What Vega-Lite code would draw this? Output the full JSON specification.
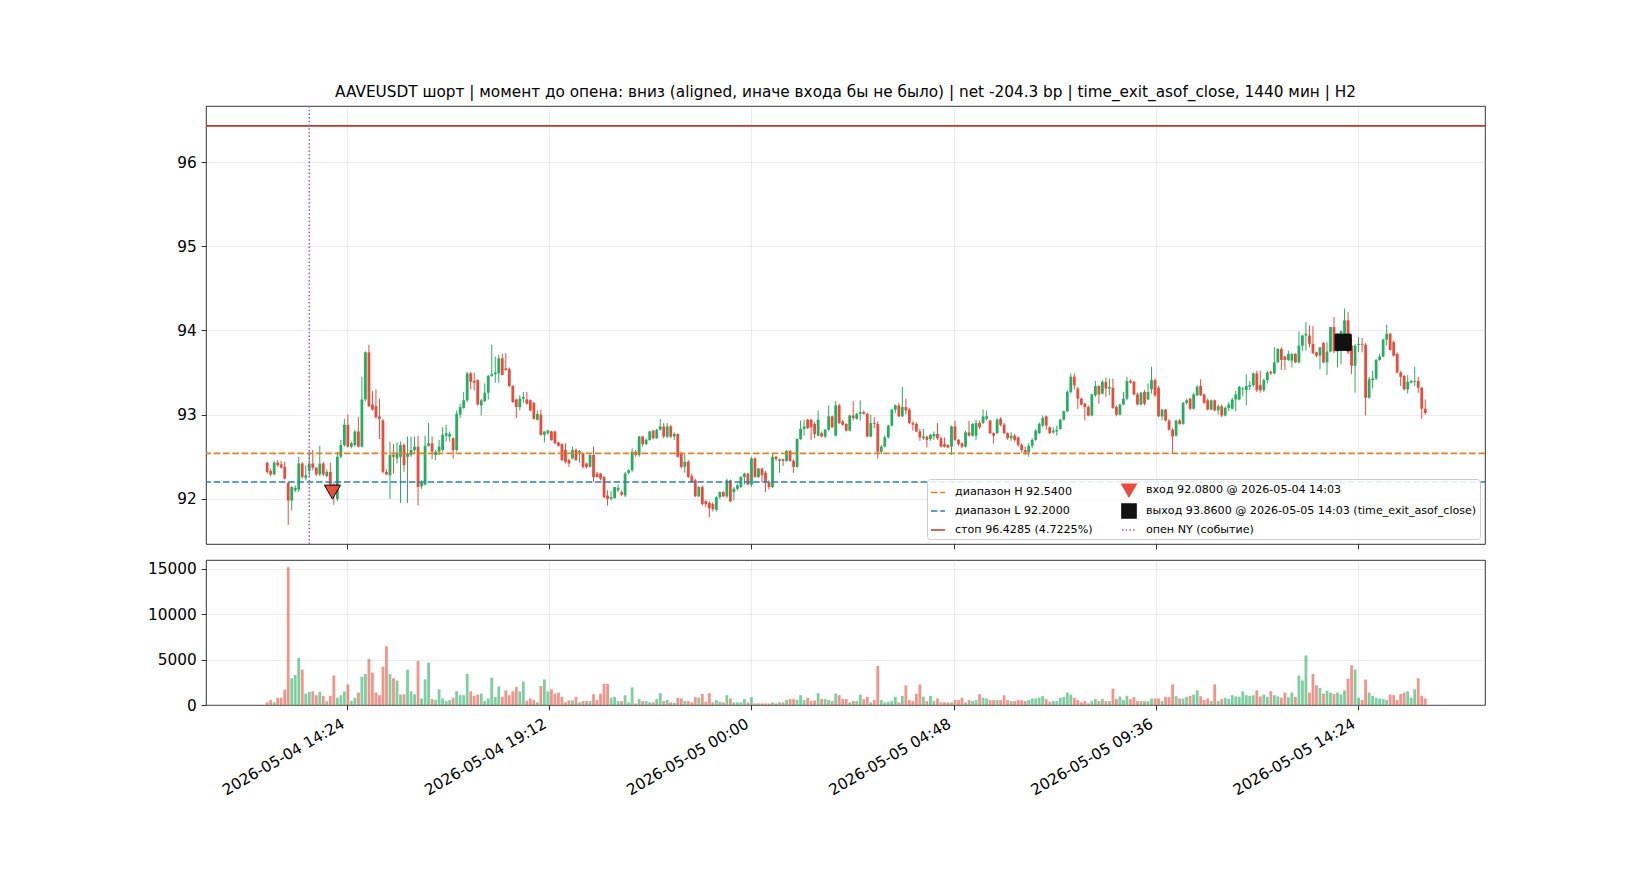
{
  "$schema": "https://vega.github.io/schema/vega-lite/v6.json",
  "background": "white",
  "padding": {"left": 145, "top": 84, "right": 20, "bottom": 10},
  "config": {
    "font": "DejaVu Sans",
    "view": {"stroke": "black", "strokeWidth": 0.8},
    "axis": {"domain": false, "tickColor": "black", "tickSize": 4.9, "tickWidth": 0.8, "labelFont": "DejaVu Sans", "labelFontSize": 15.3, "labelColor": "black", "labelPadding": 4.9, "gridColor": "#b0b0b0", "gridOpacity": 0.3, "gridWidth": 0.8}
  },
  "datasets": {
    "k": [
      {"t":"2026-05-04 12:30","o":92.43,"h":92.44,"l":92.30,"c":92.32,"v":300},
      {"t":"2026-05-04 12:35","o":92.33,"h":92.36,"l":92.27,"c":92.29,"v":540},
      {"t":"2026-05-04 12:40","o":92.29,"h":92.45,"l":92.28,"c":92.43,"v":300},
      {"t":"2026-05-04 12:45","o":92.43,"h":92.46,"l":92.38,"c":92.40,"v":800},
      {"t":"2026-05-04 12:50","o":92.41,"h":92.45,"l":92.36,"c":92.37,"v":800},
      {"t":"2026-05-04 12:55","o":92.38,"h":92.44,"l":92.23,"c":92.24,"v":1700},
      {"t":"2026-05-04 13:00","o":92.19,"h":92.20,"l":91.69,"c":91.98,"v":15200},
      {"t":"2026-05-04 13:05","o":91.98,"h":92.15,"l":91.86,"c":92.14,"v":2950},
      {"t":"2026-05-04 13:10","o":92.10,"h":92.16,"l":92.08,"c":92.13,"v":3300},
      {"t":"2026-05-04 13:15","o":92.11,"h":92.50,"l":92.08,"c":92.42,"v":5180},
      {"t":"2026-05-04 13:20","o":92.42,"h":92.44,"l":92.24,"c":92.26,"v":3900},
      {"t":"2026-05-04 13:25","o":92.25,"h":92.40,"l":92.22,"c":92.28,"v":1260},
      {"t":"2026-05-04 13:30","o":92.33,"h":92.56,"l":92.26,"c":92.42,"v":1440},
      {"t":"2026-05-04 13:35","o":92.42,"h":92.58,"l":92.34,"c":92.37,"v":1500},
      {"t":"2026-05-04 13:40","o":92.37,"h":92.38,"l":92.27,"c":92.29,"v":1080},
      {"t":"2026-05-04 13:45","o":92.29,"h":92.63,"l":92.27,"c":92.42,"v":1440},
      {"t":"2026-05-04 13:50","o":92.42,"h":92.44,"l":92.27,"c":92.29,"v":1000},
      {"t":"2026-05-04 13:55","o":92.27,"h":92.35,"l":92.26,"c":92.32,"v":430},
      {"t":"2026-05-04 14:00","o":92.32,"h":92.43,"l":92.15,"c":92.17,"v":1000},
      {"t":"2026-05-04 14:05","o":92.17,"h":92.20,"l":91.93,"c":92.08,"v":3240},
      {"t":"2026-05-04 14:10","o":92.00,"h":92.56,"l":91.97,"c":92.50,"v":800},
      {"t":"2026-05-04 14:15","o":92.50,"h":92.70,"l":92.48,"c":92.64,"v":1080},
      {"t":"2026-05-04 14:20","o":92.64,"h":92.95,"l":92.62,"c":92.88,"v":1500},
      {"t":"2026-05-04 14:25","o":92.88,"h":93.00,"l":92.61,"c":92.62,"v":2270},
      {"t":"2026-05-04 14:30","o":92.62,"h":92.68,"l":92.60,"c":92.66,"v":430},
      {"t":"2026-05-04 14:35","o":92.64,"h":92.82,"l":92.62,"c":92.80,"v":800},
      {"t":"2026-05-04 14:40","o":92.80,"h":92.97,"l":92.61,"c":92.62,"v":1370},
      {"t":"2026-05-04 14:45","o":92.62,"h":93.45,"l":92.61,"c":93.18,"v":3130},
      {"t":"2026-05-04 14:50","o":93.18,"h":93.75,"l":93.16,"c":93.74,"v":3420},
      {"t":"2026-05-04 14:55","o":93.74,"h":93.83,"l":93.09,"c":93.10,"v":5080},
      {"t":"2026-05-04 15:00","o":93.12,"h":93.28,"l":93.05,"c":93.06,"v":3560},
      {"t":"2026-05-04 15:05","o":93.10,"h":93.30,"l":92.95,"c":92.97,"v":1370},
      {"t":"2026-05-04 15:10","o":92.98,"h":93.19,"l":92.71,"c":92.95,"v":1080},
      {"t":"2026-05-04 15:15","o":92.93,"h":92.95,"l":92.30,"c":92.32,"v":4210},
      {"t":"2026-05-04 15:20","o":92.32,"h":92.35,"l":92.28,"c":92.29,"v":6480},
      {"t":"2026-05-04 15:25","o":92.28,"h":92.68,"l":92.00,"c":92.52,"v":3420},
      {"t":"2026-05-04 15:30","o":92.52,"h":92.65,"l":92.30,"c":92.50,"v":2950},
      {"t":"2026-05-04 15:35","o":92.48,"h":92.67,"l":92.42,"c":92.55,"v":2700},
      {"t":"2026-05-04 15:40","o":92.50,"h":92.68,"l":91.95,"c":92.64,"v":1150},
      {"t":"2026-05-04 15:45","o":92.64,"h":92.66,"l":92.32,"c":92.40,"v":1190},
      {"t":"2026-05-04 15:50","o":92.50,"h":92.74,"l":91.95,"c":92.54,"v":3890},
      {"t":"2026-05-04 15:55","o":92.52,"h":92.74,"l":92.50,"c":92.58,"v":1510},
      {"t":"2026-05-04 16:00","o":92.58,"h":92.74,"l":92.54,"c":92.62,"v":1190},
      {"t":"2026-05-04 16:05","o":92.62,"h":92.75,"l":91.92,"c":92.14,"v":4860},
      {"t":"2026-05-04 16:10","o":92.15,"h":92.22,"l":92.12,"c":92.19,"v":720},
      {"t":"2026-05-04 16:15","o":92.17,"h":92.75,"l":92.16,"c":92.63,"v":2840},
      {"t":"2026-05-04 16:20","o":92.63,"h":92.90,"l":92.62,"c":92.66,"v":4680},
      {"t":"2026-05-04 16:25","o":92.66,"h":92.74,"l":92.47,"c":92.56,"v":650},
      {"t":"2026-05-04 16:30","o":92.52,"h":92.58,"l":92.46,"c":92.56,"v":540},
      {"t":"2026-05-04 16:35","o":92.56,"h":92.70,"l":92.52,"c":92.62,"v":1730},
      {"t":"2026-05-04 16:40","o":92.58,"h":92.85,"l":92.56,"c":92.76,"v":720},
      {"t":"2026-05-04 16:45","o":92.75,"h":92.88,"l":92.68,"c":92.78,"v":430},
      {"t":"2026-05-04 16:50","o":92.74,"h":92.80,"l":92.68,"c":92.77,"v":540},
      {"t":"2026-05-04 16:55","o":92.72,"h":92.73,"l":92.48,"c":92.58,"v":800},
      {"t":"2026-05-04 17:00","o":92.58,"h":93.05,"l":92.56,"c":93.01,"v":1510},
      {"t":"2026-05-04 17:05","o":93.00,"h":93.13,"l":92.96,"c":93.09,"v":1080},
      {"t":"2026-05-04 17:10","o":93.08,"h":93.27,"l":93.07,"c":93.17,"v":1080},
      {"t":"2026-05-04 17:15","o":93.17,"h":93.51,"l":93.15,"c":93.49,"v":3420},
      {"t":"2026-05-04 17:20","o":93.49,"h":93.51,"l":93.30,"c":93.39,"v":1510},
      {"t":"2026-05-04 17:25","o":93.40,"h":93.50,"l":93.29,"c":93.38,"v":1010},
      {"t":"2026-05-04 17:30","o":93.41,"h":93.42,"l":93.11,"c":93.12,"v":1150},
      {"t":"2026-05-04 17:35","o":93.11,"h":93.19,"l":92.99,"c":93.17,"v":1260},
      {"t":"2026-05-04 17:40","o":93.16,"h":93.37,"l":93.15,"c":93.26,"v":430},
      {"t":"2026-05-04 17:45","o":93.26,"h":93.47,"l":93.18,"c":93.46,"v":720},
      {"t":"2026-05-04 17:50","o":93.46,"h":93.83,"l":93.45,"c":93.48,"v":3020},
      {"t":"2026-05-04 17:55","o":93.48,"h":93.69,"l":93.38,"c":93.50,"v":900},
      {"t":"2026-05-04 18:00","o":93.49,"h":93.71,"l":93.38,"c":93.67,"v":2050},
      {"t":"2026-05-04 18:05","o":93.67,"h":93.72,"l":93.47,"c":93.47,"v":900},
      {"t":"2026-05-04 18:10","o":93.55,"h":93.73,"l":93.52,"c":93.53,"v":1620},
      {"t":"2026-05-04 18:15","o":93.54,"h":93.56,"l":93.33,"c":93.34,"v":1080},
      {"t":"2026-05-04 18:20","o":93.34,"h":93.35,"l":93.14,"c":93.15,"v":1510},
      {"t":"2026-05-04 18:25","o":93.18,"h":93.19,"l":92.96,"c":93.09,"v":1980},
      {"t":"2026-05-04 18:30","o":93.09,"h":93.23,"l":93.05,"c":93.19,"v":1510},
      {"t":"2026-05-04 18:35","o":93.19,"h":93.27,"l":93.14,"c":93.21,"v":2590},
      {"t":"2026-05-04 18:40","o":93.18,"h":93.27,"l":93.12,"c":93.13,"v":470},
      {"t":"2026-05-04 18:45","o":93.17,"h":93.18,"l":93.04,"c":93.05,"v":720},
      {"t":"2026-05-04 18:50","o":93.14,"h":93.15,"l":92.94,"c":92.95,"v":540},
      {"t":"2026-05-04 18:55","o":92.94,"h":93.05,"l":92.93,"c":93.01,"v":290},
      {"t":"2026-05-04 19:00","o":93.00,"h":93.06,"l":92.75,"c":92.76,"v":2090},
      {"t":"2026-05-04 19:05","o":92.76,"h":92.80,"l":92.67,"c":92.80,"v":2810},
      {"t":"2026-05-04 19:10","o":92.78,"h":92.82,"l":92.76,"c":92.81,"v":1510},
      {"t":"2026-05-04 19:15","o":92.80,"h":92.81,"l":92.69,"c":92.70,"v":1730},
      {"t":"2026-05-04 19:20","o":92.80,"h":92.81,"l":92.65,"c":92.66,"v":1260},
      {"t":"2026-05-04 19:25","o":92.67,"h":92.68,"l":92.62,"c":92.63,"v":1370},
      {"t":"2026-05-04 19:30","o":92.65,"h":92.66,"l":92.45,"c":92.46,"v":900},
      {"t":"2026-05-04 19:35","o":92.58,"h":92.66,"l":92.42,"c":92.44,"v":290},
      {"t":"2026-05-04 19:40","o":92.46,"h":92.48,"l":92.38,"c":92.42,"v":500},
      {"t":"2026-05-04 19:45","o":92.48,"h":92.62,"l":92.47,"c":92.58,"v":500},
      {"t":"2026-05-04 19:50","o":92.58,"h":92.60,"l":92.45,"c":92.46,"v":900},
      {"t":"2026-05-04 19:55","o":92.55,"h":92.58,"l":92.43,"c":92.57,"v":290},
      {"t":"2026-05-04 20:00","o":92.54,"h":92.55,"l":92.36,"c":92.38,"v":430},
      {"t":"2026-05-04 20:05","o":92.42,"h":92.43,"l":92.36,"c":92.38,"v":430},
      {"t":"2026-05-04 20:10","o":92.38,"h":92.53,"l":92.37,"c":92.52,"v":430},
      {"t":"2026-05-04 20:15","o":92.52,"h":92.62,"l":92.20,"c":92.26,"v":1190},
      {"t":"2026-05-04 20:20","o":92.30,"h":92.32,"l":92.25,"c":92.26,"v":540},
      {"t":"2026-05-04 20:25","o":92.30,"h":92.31,"l":92.22,"c":92.24,"v":1260},
      {"t":"2026-05-04 20:30","o":92.26,"h":92.27,"l":92.01,"c":92.02,"v":2340},
      {"t":"2026-05-04 20:35","o":92.04,"h":92.10,"l":91.92,"c":92.00,"v":2340},
      {"t":"2026-05-04 20:40","o":92.00,"h":92.09,"l":91.98,"c":92.02,"v":800},
      {"t":"2026-05-04 20:45","o":92.01,"h":92.14,"l":92.00,"c":92.14,"v":900},
      {"t":"2026-05-04 20:50","o":92.10,"h":92.17,"l":92.08,"c":92.13,"v":430},
      {"t":"2026-05-04 20:55","o":92.08,"h":92.10,"l":92.03,"c":92.05,"v":430},
      {"t":"2026-05-04 21:00","o":92.04,"h":92.32,"l":92.02,"c":92.30,"v":1080},
      {"t":"2026-05-04 21:05","o":92.31,"h":92.35,"l":92.29,"c":92.34,"v":290},
      {"t":"2026-05-04 21:10","o":92.34,"h":92.60,"l":92.32,"c":92.56,"v":1940},
      {"t":"2026-05-04 21:15","o":92.56,"h":92.58,"l":92.50,"c":92.52,"v":180},
      {"t":"2026-05-04 21:20","o":92.52,"h":92.75,"l":92.50,"c":92.74,"v":650},
      {"t":"2026-05-04 21:25","o":92.74,"h":92.75,"l":92.62,"c":92.65,"v":430},
      {"t":"2026-05-04 21:30","o":92.65,"h":92.72,"l":92.64,"c":92.70,"v":430},
      {"t":"2026-05-04 21:35","o":92.70,"h":92.81,"l":92.69,"c":92.80,"v":290},
      {"t":"2026-05-04 21:40","o":92.81,"h":92.82,"l":92.71,"c":92.72,"v":290},
      {"t":"2026-05-04 21:45","o":92.72,"h":92.83,"l":92.71,"c":92.82,"v":650},
      {"t":"2026-05-04 21:50","o":92.82,"h":92.95,"l":92.81,"c":92.86,"v":1300},
      {"t":"2026-05-04 21:55","o":92.86,"h":92.90,"l":92.72,"c":92.74,"v":430},
      {"t":"2026-05-04 22:00","o":92.74,"h":92.90,"l":92.72,"c":92.86,"v":540},
      {"t":"2026-05-04 22:05","o":92.86,"h":92.88,"l":92.72,"c":92.74,"v":290},
      {"t":"2026-05-04 22:10","o":92.74,"h":92.79,"l":92.70,"c":92.77,"v":220},
      {"t":"2026-05-04 22:15","o":92.77,"h":92.78,"l":92.49,"c":92.50,"v":800},
      {"t":"2026-05-04 22:20","o":92.54,"h":92.56,"l":92.36,"c":92.38,"v":720},
      {"t":"2026-05-04 22:25","o":92.38,"h":92.53,"l":92.31,"c":92.44,"v":430},
      {"t":"2026-05-04 22:30","o":92.44,"h":92.46,"l":92.25,"c":92.26,"v":430},
      {"t":"2026-05-04 22:35","o":92.27,"h":92.30,"l":92.19,"c":92.20,"v":290},
      {"t":"2026-05-04 22:40","o":92.22,"h":92.24,"l":92.02,"c":92.03,"v":860},
      {"t":"2026-05-04 22:45","o":92.03,"h":92.15,"l":92.02,"c":92.14,"v":800},
      {"t":"2026-05-04 22:50","o":92.14,"h":92.16,"l":91.92,"c":91.94,"v":1220},
      {"t":"2026-05-04 22:55","o":91.97,"h":91.99,"l":91.90,"c":91.94,"v":360},
      {"t":"2026-05-04 23:00","o":91.95,"h":91.97,"l":91.78,"c":91.89,"v":1300},
      {"t":"2026-05-04 23:05","o":91.94,"h":91.96,"l":91.85,"c":91.88,"v":290},
      {"t":"2026-05-04 23:10","o":91.87,"h":92.03,"l":91.85,"c":92.02,"v":540},
      {"t":"2026-05-04 23:15","o":92.02,"h":92.09,"l":92.00,"c":92.08,"v":360},
      {"t":"2026-05-04 23:20","o":92.08,"h":92.09,"l":92.02,"c":92.03,"v":290},
      {"t":"2026-05-04 23:25","o":92.03,"h":92.24,"l":92.01,"c":92.22,"v":1080},
      {"t":"2026-05-04 23:30","o":92.22,"h":92.23,"l":91.96,"c":91.97,"v":720},
      {"t":"2026-05-04 23:35","o":92.08,"h":92.14,"l":91.98,"c":92.12,"v":290},
      {"t":"2026-05-04 23:40","o":92.12,"h":92.18,"l":92.10,"c":92.16,"v":290},
      {"t":"2026-05-04 23:45","o":92.14,"h":92.27,"l":92.13,"c":92.26,"v":290},
      {"t":"2026-05-04 23:50","o":92.26,"h":92.31,"l":92.17,"c":92.30,"v":650},
      {"t":"2026-05-04 23:55","o":92.30,"h":92.31,"l":92.16,"c":92.17,"v":290},
      {"t":"2026-05-05 00:00","o":92.17,"h":92.50,"l":92.14,"c":92.48,"v":860},
      {"t":"2026-05-05 00:05","o":92.48,"h":92.49,"l":92.25,"c":92.26,"v":180},
      {"t":"2026-05-05 00:10","o":92.26,"h":92.37,"l":92.25,"c":92.36,"v":180},
      {"t":"2026-05-05 00:15","o":92.36,"h":92.37,"l":92.20,"c":92.28,"v":180},
      {"t":"2026-05-05 00:20","o":92.31,"h":92.33,"l":92.08,"c":92.20,"v":180},
      {"t":"2026-05-05 00:25","o":92.20,"h":92.22,"l":92.11,"c":92.14,"v":180},
      {"t":"2026-05-05 00:30","o":92.14,"h":92.54,"l":92.13,"c":92.50,"v":290},
      {"t":"2026-05-05 00:35","o":92.50,"h":92.51,"l":92.45,"c":92.47,"v":180},
      {"t":"2026-05-05 00:40","o":92.45,"h":92.48,"l":92.31,"c":92.47,"v":290},
      {"t":"2026-05-05 00:45","o":92.47,"h":92.48,"l":92.39,"c":92.45,"v":290},
      {"t":"2026-05-05 00:50","o":92.45,"h":92.58,"l":92.44,"c":92.57,"v":540},
      {"t":"2026-05-05 00:55","o":92.57,"h":92.58,"l":92.44,"c":92.45,"v":650},
      {"t":"2026-05-05 01:00","o":92.45,"h":92.47,"l":92.31,"c":92.38,"v":650},
      {"t":"2026-05-05 01:05","o":92.38,"h":92.72,"l":92.37,"c":92.71,"v":580},
      {"t":"2026-05-05 01:10","o":92.71,"h":92.93,"l":92.70,"c":92.83,"v":1080},
      {"t":"2026-05-05 01:15","o":92.83,"h":92.94,"l":92.75,"c":92.86,"v":540},
      {"t":"2026-05-05 01:20","o":92.94,"h":92.95,"l":92.83,"c":92.84,"v":800},
      {"t":"2026-05-05 01:25","o":92.94,"h":92.95,"l":92.70,"c":92.85,"v":430},
      {"t":"2026-05-05 01:30","o":92.89,"h":92.91,"l":92.72,"c":92.77,"v":500},
      {"t":"2026-05-05 01:35","o":92.75,"h":93.05,"l":92.74,"c":92.94,"v":1300},
      {"t":"2026-05-05 01:40","o":92.78,"h":92.80,"l":92.73,"c":92.74,"v":650},
      {"t":"2026-05-05 01:45","o":92.74,"h":92.83,"l":92.72,"c":92.82,"v":650},
      {"t":"2026-05-05 01:50","o":92.82,"h":93.11,"l":92.81,"c":92.98,"v":540},
      {"t":"2026-05-05 01:55","o":92.98,"h":92.99,"l":92.84,"c":92.85,"v":430},
      {"t":"2026-05-05 02:00","o":92.75,"h":93.16,"l":92.74,"c":93.11,"v":1260},
      {"t":"2026-05-05 02:05","o":93.11,"h":93.13,"l":92.89,"c":92.90,"v":1080},
      {"t":"2026-05-05 02:10","o":92.92,"h":92.94,"l":92.87,"c":92.88,"v":650},
      {"t":"2026-05-05 02:15","o":92.89,"h":92.90,"l":92.80,"c":92.81,"v":650},
      {"t":"2026-05-05 02:20","o":92.81,"h":93.00,"l":92.80,"c":92.99,"v":290},
      {"t":"2026-05-05 02:25","o":92.99,"h":93.16,"l":92.93,"c":92.96,"v":430},
      {"t":"2026-05-05 02:30","o":92.95,"h":93.02,"l":92.94,"c":93.01,"v":430},
      {"t":"2026-05-05 02:35","o":93.01,"h":93.17,"l":92.93,"c":93.03,"v":1150},
      {"t":"2026-05-05 02:40","o":93.03,"h":93.05,"l":93.00,"c":93.01,"v":650},
      {"t":"2026-05-05 02:45","o":93.01,"h":93.02,"l":92.73,"c":92.74,"v":900},
      {"t":"2026-05-05 02:50","o":92.74,"h":93.00,"l":92.73,"c":92.90,"v":290},
      {"t":"2026-05-05 02:55","o":92.90,"h":92.97,"l":92.84,"c":92.89,"v":540},
      {"t":"2026-05-05 03:00","o":92.89,"h":92.92,"l":92.48,"c":92.56,"v":4320},
      {"t":"2026-05-05 03:05","o":92.56,"h":92.64,"l":92.53,"c":92.62,"v":540},
      {"t":"2026-05-05 03:10","o":92.62,"h":92.75,"l":92.61,"c":92.73,"v":290},
      {"t":"2026-05-05 03:15","o":92.73,"h":92.88,"l":92.72,"c":92.87,"v":360},
      {"t":"2026-05-05 03:20","o":92.87,"h":93.07,"l":92.86,"c":93.06,"v":430},
      {"t":"2026-05-05 03:25","o":93.06,"h":93.12,"l":93.02,"c":93.11,"v":900},
      {"t":"2026-05-05 03:30","o":93.11,"h":93.14,"l":92.97,"c":92.98,"v":290},
      {"t":"2026-05-05 03:35","o":92.98,"h":93.33,"l":92.97,"c":93.09,"v":1010},
      {"t":"2026-05-05 03:40","o":93.09,"h":93.19,"l":93.00,"c":93.05,"v":2160},
      {"t":"2026-05-05 03:45","o":93.06,"h":93.08,"l":92.89,"c":92.90,"v":540},
      {"t":"2026-05-05 03:50","o":92.90,"h":92.92,"l":92.81,"c":92.88,"v":430},
      {"t":"2026-05-05 03:55","o":92.89,"h":92.91,"l":92.79,"c":92.80,"v":1220},
      {"t":"2026-05-05 04:00","o":92.80,"h":92.83,"l":92.69,"c":92.73,"v":2270},
      {"t":"2026-05-05 04:05","o":92.72,"h":92.83,"l":92.70,"c":92.74,"v":900},
      {"t":"2026-05-05 04:10","o":92.74,"h":92.75,"l":92.61,"c":92.70,"v":430},
      {"t":"2026-05-05 04:15","o":92.71,"h":92.77,"l":92.69,"c":92.76,"v":1010},
      {"t":"2026-05-05 04:20","o":92.74,"h":92.80,"l":92.70,"c":92.77,"v":430},
      {"t":"2026-05-05 04:25","o":92.77,"h":92.90,"l":92.70,"c":92.72,"v":720},
      {"t":"2026-05-05 04:30","o":92.72,"h":92.74,"l":92.61,"c":92.62,"v":290},
      {"t":"2026-05-05 04:35","o":92.65,"h":92.73,"l":92.61,"c":92.62,"v":290},
      {"t":"2026-05-05 04:40","o":92.64,"h":92.65,"l":92.60,"c":92.61,"v":290},
      {"t":"2026-05-05 04:45","o":92.62,"h":92.87,"l":92.52,"c":92.86,"v":290},
      {"t":"2026-05-05 04:50","o":92.86,"h":92.93,"l":92.69,"c":92.70,"v":540},
      {"t":"2026-05-05 04:55","o":92.70,"h":92.71,"l":92.63,"c":92.65,"v":540},
      {"t":"2026-05-05 05:00","o":92.66,"h":92.67,"l":92.60,"c":92.62,"v":800},
      {"t":"2026-05-05 05:05","o":92.62,"h":92.81,"l":92.61,"c":92.79,"v":290},
      {"t":"2026-05-05 05:10","o":92.79,"h":92.93,"l":92.74,"c":92.75,"v":540},
      {"t":"2026-05-05 05:15","o":92.75,"h":92.90,"l":92.74,"c":92.89,"v":430},
      {"t":"2026-05-05 05:20","o":92.75,"h":92.94,"l":92.70,"c":92.90,"v":540},
      {"t":"2026-05-05 05:25","o":92.90,"h":92.93,"l":92.83,"c":92.85,"v":1190},
      {"t":"2026-05-05 05:30","o":92.90,"h":93.06,"l":92.89,"c":92.98,"v":800},
      {"t":"2026-05-05 05:35","o":92.95,"h":93.05,"l":92.93,"c":92.98,"v":720},
      {"t":"2026-05-05 05:40","o":92.93,"h":92.94,"l":92.77,"c":92.78,"v":540},
      {"t":"2026-05-05 05:45","o":92.78,"h":92.79,"l":92.66,"c":92.75,"v":540},
      {"t":"2026-05-05 05:50","o":92.78,"h":92.96,"l":92.77,"c":92.94,"v":540},
      {"t":"2026-05-05 05:55","o":92.95,"h":92.97,"l":92.86,"c":92.88,"v":540},
      {"t":"2026-05-05 06:00","o":92.88,"h":92.90,"l":92.77,"c":92.78,"v":1080},
      {"t":"2026-05-05 06:05","o":92.78,"h":92.79,"l":92.70,"c":92.72,"v":540},
      {"t":"2026-05-05 06:10","o":92.72,"h":92.79,"l":92.69,"c":92.75,"v":430},
      {"t":"2026-05-05 06:15","o":92.75,"h":92.77,"l":92.68,"c":92.70,"v":430},
      {"t":"2026-05-05 06:20","o":92.73,"h":92.74,"l":92.62,"c":92.64,"v":540},
      {"t":"2026-05-05 06:25","o":92.64,"h":92.66,"l":92.55,"c":92.58,"v":540},
      {"t":"2026-05-05 06:30","o":92.58,"h":92.62,"l":92.52,"c":92.55,"v":430},
      {"t":"2026-05-05 06:35","o":92.55,"h":92.66,"l":92.50,"c":92.63,"v":540},
      {"t":"2026-05-05 06:40","o":92.63,"h":92.72,"l":92.60,"c":92.70,"v":720},
      {"t":"2026-05-05 06:45","o":92.70,"h":92.83,"l":92.69,"c":92.81,"v":720},
      {"t":"2026-05-05 06:50","o":92.78,"h":92.91,"l":92.77,"c":92.89,"v":800},
      {"t":"2026-05-05 06:55","o":92.87,"h":92.99,"l":92.85,"c":92.96,"v":970},
      {"t":"2026-05-05 07:00","o":92.98,"h":92.99,"l":92.82,"c":92.87,"v":650},
      {"t":"2026-05-05 07:05","o":92.85,"h":92.86,"l":92.77,"c":92.78,"v":360},
      {"t":"2026-05-05 07:10","o":92.79,"h":92.85,"l":92.77,"c":92.81,"v":430},
      {"t":"2026-05-05 07:15","o":92.80,"h":92.87,"l":92.75,"c":92.82,"v":430},
      {"t":"2026-05-05 07:20","o":92.83,"h":92.95,"l":92.82,"c":92.94,"v":800},
      {"t":"2026-05-05 07:25","o":92.94,"h":93.05,"l":92.93,"c":93.04,"v":900},
      {"t":"2026-05-05 07:30","o":93.04,"h":93.29,"l":93.03,"c":93.27,"v":1370},
      {"t":"2026-05-05 07:35","o":93.27,"h":93.49,"l":93.25,"c":93.45,"v":1150},
      {"t":"2026-05-05 07:40","o":93.45,"h":93.49,"l":93.30,"c":93.35,"v":800},
      {"t":"2026-05-05 07:45","o":93.31,"h":93.33,"l":93.07,"c":93.19,"v":540},
      {"t":"2026-05-05 07:50","o":93.19,"h":93.20,"l":93.11,"c":93.12,"v":290},
      {"t":"2026-05-05 07:55","o":93.13,"h":93.14,"l":92.93,"c":93.09,"v":430},
      {"t":"2026-05-05 08:00","o":93.09,"h":93.11,"l":92.98,"c":92.99,"v":180},
      {"t":"2026-05-05 08:05","o":92.99,"h":93.25,"l":92.98,"c":93.24,"v":430},
      {"t":"2026-05-05 08:10","o":93.23,"h":93.40,"l":93.21,"c":93.34,"v":650},
      {"t":"2026-05-05 08:15","o":93.34,"h":93.35,"l":93.13,"c":93.24,"v":430},
      {"t":"2026-05-05 08:20","o":93.25,"h":93.41,"l":93.24,"c":93.39,"v":650},
      {"t":"2026-05-05 08:25","o":93.39,"h":93.44,"l":93.21,"c":93.31,"v":430},
      {"t":"2026-05-05 08:30","o":93.31,"h":93.43,"l":93.23,"c":93.33,"v":430},
      {"t":"2026-05-05 08:35","o":93.32,"h":93.43,"l":93.07,"c":93.08,"v":1800},
      {"t":"2026-05-05 08:40","o":93.09,"h":93.11,"l":92.98,"c":93.00,"v":650},
      {"t":"2026-05-05 08:45","o":93.00,"h":93.13,"l":92.99,"c":93.12,"v":940},
      {"t":"2026-05-05 08:50","o":93.12,"h":93.27,"l":93.11,"c":93.19,"v":540},
      {"t":"2026-05-05 08:55","o":93.19,"h":93.45,"l":93.17,"c":93.40,"v":1010},
      {"t":"2026-05-05 09:00","o":93.40,"h":93.42,"l":93.37,"c":93.38,"v":650},
      {"t":"2026-05-05 09:05","o":93.39,"h":93.40,"l":93.23,"c":93.24,"v":860},
      {"t":"2026-05-05 09:10","o":93.24,"h":93.26,"l":93.11,"c":93.12,"v":430},
      {"t":"2026-05-05 09:15","o":93.12,"h":93.27,"l":93.11,"c":93.26,"v":430},
      {"t":"2026-05-05 09:20","o":93.27,"h":93.29,"l":93.11,"c":93.13,"v":430},
      {"t":"2026-05-05 09:25","o":93.18,"h":93.37,"l":93.17,"c":93.27,"v":430},
      {"t":"2026-05-05 09:30","o":93.30,"h":93.57,"l":93.25,"c":93.41,"v":720},
      {"t":"2026-05-05 09:35","o":93.41,"h":93.43,"l":93.21,"c":93.23,"v":720},
      {"t":"2026-05-05 09:40","o":93.32,"h":93.34,"l":92.97,"c":92.98,"v":720},
      {"t":"2026-05-05 09:45","o":92.98,"h":93.07,"l":92.93,"c":93.06,"v":430},
      {"t":"2026-05-05 09:50","o":93.06,"h":93.07,"l":92.92,"c":92.93,"v":900},
      {"t":"2026-05-05 09:55","o":92.93,"h":92.95,"l":92.81,"c":92.82,"v":860},
      {"t":"2026-05-05 10:00","o":92.82,"h":92.84,"l":92.54,"c":92.74,"v":2270},
      {"t":"2026-05-05 10:05","o":92.75,"h":92.94,"l":92.74,"c":92.93,"v":970},
      {"t":"2026-05-05 10:10","o":92.93,"h":92.95,"l":92.88,"c":92.89,"v":720},
      {"t":"2026-05-05 10:15","o":92.89,"h":93.15,"l":92.88,"c":93.14,"v":720},
      {"t":"2026-05-05 10:20","o":93.14,"h":93.19,"l":93.12,"c":93.17,"v":900},
      {"t":"2026-05-05 10:25","o":93.19,"h":93.20,"l":93.05,"c":93.07,"v":1010},
      {"t":"2026-05-05 10:30","o":93.07,"h":93.26,"l":93.06,"c":93.24,"v":1150},
      {"t":"2026-05-05 10:35","o":93.23,"h":93.35,"l":93.22,"c":93.33,"v":1620},
      {"t":"2026-05-05 10:40","o":93.34,"h":93.42,"l":93.22,"c":93.23,"v":970},
      {"t":"2026-05-05 10:45","o":93.24,"h":93.25,"l":93.13,"c":93.14,"v":540},
      {"t":"2026-05-05 10:50","o":93.17,"h":93.19,"l":93.05,"c":93.06,"v":720},
      {"t":"2026-05-05 10:55","o":93.06,"h":93.18,"l":93.05,"c":93.17,"v":430},
      {"t":"2026-05-05 11:00","o":93.17,"h":93.18,"l":93.04,"c":93.05,"v":2270},
      {"t":"2026-05-05 11:05","o":93.05,"h":93.12,"l":93.00,"c":93.10,"v":430},
      {"t":"2026-05-05 11:10","o":93.10,"h":93.12,"l":92.97,"c":92.99,"v":650},
      {"t":"2026-05-05 11:15","o":92.99,"h":93.10,"l":92.98,"c":93.08,"v":800},
      {"t":"2026-05-05 11:20","o":93.08,"h":93.15,"l":93.04,"c":93.12,"v":650},
      {"t":"2026-05-05 11:25","o":93.07,"h":93.20,"l":93.06,"c":93.18,"v":1080},
      {"t":"2026-05-05 11:30","o":93.18,"h":93.28,"l":93.04,"c":93.24,"v":940},
      {"t":"2026-05-05 11:35","o":93.18,"h":93.34,"l":93.17,"c":93.33,"v":900},
      {"t":"2026-05-05 11:40","o":93.30,"h":93.33,"l":93.22,"c":93.31,"v":1510},
      {"t":"2026-05-05 11:45","o":93.29,"h":93.48,"l":93.11,"c":93.34,"v":1080},
      {"t":"2026-05-05 11:50","o":93.33,"h":93.40,"l":93.29,"c":93.35,"v":1010},
      {"t":"2026-05-05 11:55","o":93.35,"h":93.50,"l":93.33,"c":93.49,"v":1080},
      {"t":"2026-05-05 12:00","o":93.49,"h":93.52,"l":93.27,"c":93.29,"v":1620},
      {"t":"2026-05-05 12:05","o":93.35,"h":93.52,"l":93.26,"c":93.29,"v":940},
      {"t":"2026-05-05 12:10","o":93.29,"h":93.43,"l":93.27,"c":93.41,"v":1150},
      {"t":"2026-05-05 12:15","o":93.41,"h":93.52,"l":93.37,"c":93.50,"v":900},
      {"t":"2026-05-05 12:20","o":93.51,"h":93.52,"l":93.47,"c":93.49,"v":1510},
      {"t":"2026-05-05 12:25","o":93.49,"h":93.80,"l":93.48,"c":93.62,"v":1080},
      {"t":"2026-05-05 12:30","o":93.62,"h":93.79,"l":93.61,"c":93.78,"v":940},
      {"t":"2026-05-05 12:35","o":93.78,"h":93.80,"l":93.53,"c":93.65,"v":800},
      {"t":"2026-05-05 12:40","o":93.69,"h":93.70,"l":93.53,"c":93.65,"v":1370},
      {"t":"2026-05-05 12:45","o":93.65,"h":93.76,"l":93.64,"c":93.72,"v":860},
      {"t":"2026-05-05 12:50","o":93.64,"h":93.73,"l":93.56,"c":93.72,"v":1370},
      {"t":"2026-05-05 12:55","o":93.72,"h":93.73,"l":93.61,"c":93.62,"v":900},
      {"t":"2026-05-05 13:00","o":93.62,"h":93.99,"l":93.61,"c":93.82,"v":3240},
      {"t":"2026-05-05 13:05","o":93.82,"h":93.95,"l":93.76,"c":93.94,"v":2700},
      {"t":"2026-05-05 13:10","o":93.94,"h":94.10,"l":93.76,"c":93.96,"v":5470},
      {"t":"2026-05-05 13:15","o":93.94,"h":94.06,"l":93.80,"c":93.84,"v":1370},
      {"t":"2026-05-05 13:20","o":93.84,"h":94.05,"l":93.72,"c":93.73,"v":3420},
      {"t":"2026-05-05 13:25","o":93.74,"h":93.75,"l":93.68,"c":93.70,"v":2160},
      {"t":"2026-05-05 13:30","o":93.70,"h":93.80,"l":93.54,"c":93.80,"v":1870},
      {"t":"2026-05-05 13:35","o":93.85,"h":93.86,"l":93.61,"c":93.62,"v":1260},
      {"t":"2026-05-05 13:40","o":93.62,"h":93.86,"l":93.47,"c":93.75,"v":1580},
      {"t":"2026-05-05 13:45","o":93.75,"h":94.04,"l":93.74,"c":94.04,"v":1370},
      {"t":"2026-05-05 13:50","o":94.04,"h":94.16,"l":93.73,"c":93.75,"v":1220},
      {"t":"2026-05-05 13:55","o":93.75,"h":93.97,"l":93.56,"c":93.96,"v":1370},
      {"t":"2026-05-05 14:00","o":93.96,"h":94.00,"l":93.60,"c":93.99,"v":1150},
      {"t":"2026-05-05 14:05","o":93.96,"h":94.26,"l":93.94,"c":94.12,"v":1620},
      {"t":"2026-05-05 14:10","o":94.12,"h":94.22,"l":93.72,"c":93.74,"v":2880},
      {"t":"2026-05-05 14:15","o":93.82,"h":93.92,"l":93.48,"c":93.58,"v":4390},
      {"t":"2026-05-05 14:20","o":93.58,"h":93.84,"l":93.26,"c":93.82,"v":3890},
      {"t":"2026-05-05 14:25","o":93.83,"h":93.92,"l":93.74,"c":93.84,"v":800},
      {"t":"2026-05-05 14:30","o":93.84,"h":93.91,"l":93.74,"c":93.83,"v":540},
      {"t":"2026-05-05 14:35","o":93.83,"h":93.85,"l":92.99,"c":93.20,"v":2810},
      {"t":"2026-05-05 14:40","o":93.20,"h":93.45,"l":93.19,"c":93.42,"v":1370},
      {"t":"2026-05-05 14:45","o":93.41,"h":93.52,"l":93.31,"c":93.43,"v":1010},
      {"t":"2026-05-05 14:50","o":93.43,"h":93.66,"l":93.41,"c":93.65,"v":800},
      {"t":"2026-05-05 14:55","o":93.65,"h":93.72,"l":93.64,"c":93.69,"v":720},
      {"t":"2026-05-05 15:00","o":93.69,"h":93.90,"l":93.68,"c":93.89,"v":650},
      {"t":"2026-05-05 15:05","o":93.89,"h":94.07,"l":93.82,"c":93.96,"v":540},
      {"t":"2026-05-05 15:10","o":93.96,"h":93.97,"l":93.76,"c":93.77,"v":1150},
      {"t":"2026-05-05 15:15","o":93.86,"h":93.88,"l":93.69,"c":93.70,"v":1080},
      {"t":"2026-05-05 15:20","o":93.72,"h":93.74,"l":93.49,"c":93.50,"v":540},
      {"t":"2026-05-05 15:25","o":93.50,"h":93.52,"l":93.34,"c":93.45,"v":1220},
      {"t":"2026-05-05 15:30","o":93.46,"h":93.47,"l":93.29,"c":93.30,"v":1370},
      {"t":"2026-05-05 15:35","o":93.30,"h":93.47,"l":93.25,"c":93.39,"v":1510},
      {"t":"2026-05-05 15:40","o":93.38,"h":93.41,"l":93.37,"c":93.40,"v":800},
      {"t":"2026-05-05 15:45","o":93.39,"h":93.57,"l":93.34,"c":93.40,"v":1730},
      {"t":"2026-05-05 15:50","o":93.40,"h":93.45,"l":93.26,"c":93.32,"v":2950},
      {"t":"2026-05-05 15:55","o":93.32,"h":93.33,"l":92.95,"c":93.07,"v":1010},
      {"t":"2026-05-05 16:00","o":93.07,"h":93.18,"l":93.00,"c":93.02,"v":720}
    ]
  },
  "vconcat": [
    {
      "width": 1279,
      "height": 438,
      "title": {"text": "AAVEUSDT шорт | момент до опена: вниз (aligned, иначе входа бы не было) | net -204.3 bp | time_exit_asof_close, 1440 мин | H2", "font": "DejaVu Sans", "fontSize": 15.3, "fontWeight": "normal", "color": "black", "anchor": "middle", "frame": "group", "offset": 5},
      "layer": [
        {
          "data": {"name": "k"},
          "mark": {"type": "rule", "strokeWidth": 1},
          "encoding": {
            "x": {"field": "t", "type": "temporal", "title": null,
              "scale": {"domain": [{"year": 2026, "month": 5, "date": 4, "hours": 11, "minutes": 10, "seconds": 0}, {"year": 2026, "month": 5, "date": 5, "hours": 17, "minutes": 18, "seconds": 0}]},
              "axis": {"labels": false, "grid": true, "ticks": true,
                "values": [
                  {"year": 2026, "month": 5, "date": 4, "hours": 14, "minutes": 24},
                  {"year": 2026, "month": 5, "date": 4, "hours": 19, "minutes": 12},
                  {"year": 2026, "month": 5, "date": 5, "hours": 0, "minutes": 0},
                  {"year": 2026, "month": 5, "date": 5, "hours": 4, "minutes": 48},
                  {"year": 2026, "month": 5, "date": 5, "hours": 9, "minutes": 36},
                  {"year": 2026, "month": 5, "date": 5, "hours": 14, "minutes": 24}
                ]}},
            "y": {"field": "l", "type": "quantitative", "title": null,
              "scale": {"domain": [91.464, 96.665], "nice": false, "zero": false},
              "axis": {"values": [92, 93, 94, 95, 96], "format": "d", "grid": true, "minExtent": 60, "maxExtent": 60}},
            "y2": {"field": "h"},
            "color": {"condition": {"test": "datum.c >= datum.o", "value": "#27ae60"}, "value": "#e74c3c"}
          }
        },
        {
          "data": {"name": "k"},
          "mark": {"type": "bar", "width": 2.8},
          "encoding": {
            "x": {"field": "t", "type": "temporal"},
            "y": {"field": "o", "type": "quantitative"},
            "y2": {"field": "c"},
            "color": {"condition": {"test": "datum.c >= datum.o", "value": "#27ae60"}, "value": "#e74c3c"}
          }
        },
        {
          "data": {"values": [
            {"lab": "диапазон H 92.5400", "y": 92.54},
            {"lab": "диапазон L 92.2000", "y": 92.2},
            {"lab": "стоп 96.4285 (4.7225%)", "y": 96.4285}
          ]},
          "mark": {"type": "rule", "strokeWidth": 1.6},
          "encoding": {
            "y": {"field": "y", "type": "quantitative"},
            "strokeDash": {"field": "lab", "type": "nominal",
              "scale": {"domain": ["диапазон H 92.5400", "диапазон L 92.2000", "стоп 96.4285 (4.7225%)", "вход 92.0800 @ 2026-05-04 14:03", "выход 93.8600 @ 2026-05-05 14:03 (time_exit_asof_close)", "опен NY (событие)"],
                "range": [[6.5, 2.8], [6.5, 2.8], [1, 0], [1, 0], [1, 0], [1.5, 2.2]]}},
            "color": {"field": "lab", "type": "nominal",
              "scale": {
                "domain": ["диапазон H 92.5400", "диапазон L 92.2000", "стоп 96.4285 (4.7225%)", "вход 92.0800 @ 2026-05-04 14:03", "выход 93.8600 @ 2026-05-05 14:03 (time_exit_asof_close)", "опен NY (событие)"],
                "range": ["#e67e22", "#2980b9", "#c0392b", "#e74c3c", "#111111", "#9b59b6"]}}
          }
        },
        {
          "data": {"values": [{"t": "2026-05-04 13:30", "lab": "опен NY (событие)"}]},
          "mark": {"type": "rule", "strokeWidth": 1.5},
          "encoding": {
            "x": {"field": "t", "type": "temporal"},
            "strokeDash": {"field": "lab", "type": "nominal",
              "scale": {"domain": ["диапазон H 92.5400", "диапазон L 92.2000", "стоп 96.4285 (4.7225%)", "вход 92.0800 @ 2026-05-04 14:03", "выход 93.8600 @ 2026-05-05 14:03 (time_exit_asof_close)", "опен NY (событие)"],
                "range": [[6.5, 2.8], [6.5, 2.8], [1, 0], [1, 0], [1, 0], [1.5, 2.2]]}},
            "color": {"field": "lab", "type": "nominal"}
          }
        },
        {
          "data": {"values": [
            {"t": "2026-05-04 14:03", "p": 92.08, "lab": "вход 92.0800 @ 2026-05-04 14:03"},
            {"t": "2026-05-05 14:03", "p": 93.86, "lab": "выход 93.8600 @ 2026-05-05 14:03 (time_exit_asof_close)"}
          ]},
          "mark": {"type": "point", "filled": true, "size": 260, "stroke": "black", "strokeWidth": 1, "opacity": 1},
          "encoding": {
            "x": {"field": "t", "type": "temporal"},
            "y": {"field": "p", "type": "quantitative"},
            "shape": {"field": "lab", "type": "nominal",
              "scale": {"domain": ["диапазон H 92.5400", "диапазон L 92.2000", "стоп 96.4285 (4.7225%)", "вход 92.0800 @ 2026-05-04 14:03", "выход 93.8600 @ 2026-05-05 14:03 (time_exit_asof_close)", "опен NY (событие)"],
                "range": ["stroke", "stroke", "stroke", "triangle-down", "square", "stroke"]}},
            "color": {"field": "lab", "type": "nominal",
              "legend": {
                "title": null, "orient": "bottom-right", "offset": 5, "columns": 2,
                "labelFont": "DejaVu Sans", "labelFontSize": 11.1, "labelColor": "black", "labelLimit": 600,
                "symbolSize": 200, "symbolStrokeWidth": 1.5, "labelOffset": 9, "rowPadding": 0, "columnPadding": 25, "padding": 3,
                "strokeColor": "#cccccc", "fillColor": "rgba(255,255,255,0.85)", "cornerRadius": 3
              }}
          }
        }
      ]
    },
    {
      "width": 1279,
      "height": 145,
      "data": {"name": "k"},
      "mark": {"type": "bar", "width": 2.8, "opacity": 0.6},
      "encoding": {
        "x": {"field": "t", "type": "temporal", "title": null,
          "scale": {"domain": [{"year": 2026, "month": 5, "date": 4, "hours": 11, "minutes": 10, "seconds": 0}, {"year": 2026, "month": 5, "date": 5, "hours": 17, "minutes": 18, "seconds": 0}]},
          "axis": {"format": "%Y-%m-%d %H:%M", "labelAngle": -30, "labelAlign": "right", "labelBaseline": "top", "labelOffset": -8, "labelPadding": 6, "grid": true,
            "values": [
              {"year": 2026, "month": 5, "date": 4, "hours": 14, "minutes": 24},
              {"year": 2026, "month": 5, "date": 4, "hours": 19, "minutes": 12},
              {"year": 2026, "month": 5, "date": 5, "hours": 0, "minutes": 0},
              {"year": 2026, "month": 5, "date": 5, "hours": 4, "minutes": 48},
              {"year": 2026, "month": 5, "date": 5, "hours": 9, "minutes": 36},
              {"year": 2026, "month": 5, "date": 5, "hours": 14, "minutes": 24}
            ]}},
        "y": {"field": "v", "type": "quantitative", "title": null,
          "scale": {"domain": [0, 15990], "nice": false},
          "axis": {"values": [0, 5000, 10000, 15000], "format": "d", "grid": true, "minExtent": 60, "maxExtent": 60}},
        "color": {"condition": {"test": "datum.c >= datum.o", "value": "#27ae60"}, "value": "#e74c3c"}
      }
    }
  ],
  "resolve": {
    "scale": {"color": "independent", "shape": "independent", "strokeDash": "independent"},
    "legend": {"color": "independent", "shape": "independent", "strokeDash": "independent"}
  },
  "spacing": 9
}
